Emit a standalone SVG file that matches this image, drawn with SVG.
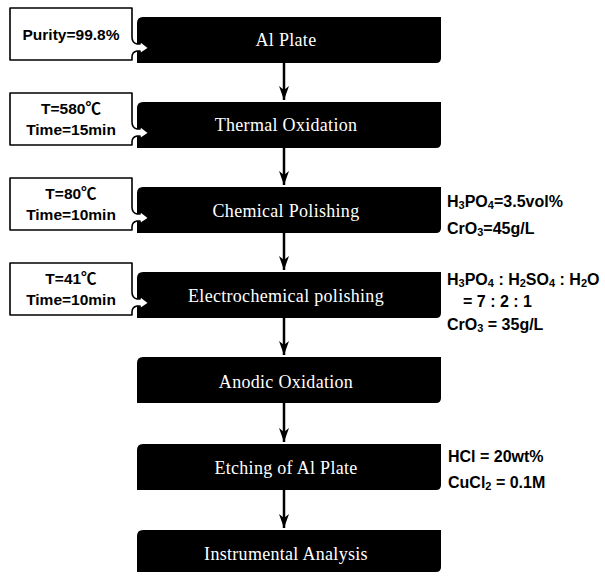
<svg xmlns="http://www.w3.org/2000/svg" width="605" height="577" viewBox="0 0 605 577">
<style>
.box{fill:#000;}
.bt{font-family:"Liberation Serif","Times New Roman",serif;font-size:18px;fill:#fff;text-anchor:middle;letter-spacing:0.3px;}
.co{fill:#fff;stroke:#000;stroke-width:1.6;stroke-linejoin:round;}
.ct{font-family:"Liberation Sans",Arial,"Noto Sans CJK SC",sans-serif;font-size:15.5px;font-weight:bold;fill:#000;text-anchor:middle;}
.nt{font-family:"Liberation Sans",Arial,sans-serif;font-size:16px;font-weight:bold;fill:#000;}
.conn{stroke:#000;stroke-width:2.5;fill:none;}
</style>
<defs>
<marker id="ah" viewBox="0 0 10 14" refX="5" refY="14" markerWidth="10" markerHeight="14" markerUnits="userSpaceOnUse" orient="0">
<path d="M0,0 L5,4 L10,0 L5,14 Z" fill="#000"/>
</marker>
</defs>
<g id="connectors">
<line class="conn" x1="284" y1="63" x2="284" y2="100" marker-end="url(#ah)"/>
<line class="conn" x1="284" y1="148" x2="284" y2="185" marker-end="url(#ah)"/>
<line class="conn" x1="284" y1="233" x2="284" y2="270" marker-end="url(#ah)"/>
<line class="conn" x1="284" y1="318" x2="284" y2="355" marker-end="url(#ah)"/>
<line class="conn" x1="284" y1="403" x2="284" y2="442" marker-end="url(#ah)"/>
<line class="conn" x1="284" y1="490" x2="284" y2="528" marker-end="url(#ah)"/>
</g>
<g id="n1">
<path class="box" d="M143,17 H441 V58 Q441,63 436,63 H137 V23 Q137,17 143,17 Z"/>
<text class="bt" x="286" y="46">Al Plate</text>
</g>
<g id="n2">
<path class="box" d="M143,102 H441 V143 Q441,148 436,148 H137 V108 Q137,102 143,102 Z"/>
<text class="bt" x="286" y="131">Thermal Oxidation</text>
</g>
<g id="n3">
<path class="box" d="M143,187 H441 V228 Q441,233 436,233 H137 V193 Q137,187 143,187 Z"/>
<text class="bt" x="286" y="217">Chemical Polishing</text>
</g>
<g id="n4">
<path class="box" d="M143,272 H441 V313 Q441,318 436,318 H137 V278 Q137,272 143,272 Z"/>
<text class="bt" x="286" y="302">Electrochemical polishing</text>
</g>
<g id="n5">
<path class="box" d="M143,357 H441 V398 Q441,403 436,403 H137 V363 Q137,357 143,357 Z"/>
<text class="bt" x="286" y="388">Anodic Oxidation</text>
</g>
<g id="n6">
<path class="box" d="M143,444 H441 V485 Q441,490 436,490 H137 V450 Q137,444 143,444 Z"/>
<text class="bt" x="286" y="474">Etching of Al Plate</text>
</g>
<g id="n7">
<path class="box" d="M143,530 H441 V567 Q441,572 436,572 H137 V536 Q137,530 143,530 Z"/>
<text class="bt" x="286" y="560">Instrumental Analysis</text>
</g>
<g id="c1">
<path class="co" d="M10,8 H132 V37 Q132,43 137,44 H140 V41 L149,48 L140,54 V51 H137 Q132,52 132,57 V60 H10 Z"/>
<text class="ct" x="71" y="40">Purity=99.8%</text>
</g>
<g id="c2">
<path class="co" d="M10,93 H132 V122 Q132,128 137,129 H140 V126 L149,133 L140,139 V136 H137 Q132,137 132,142 V145 H10 Z"/>
<text class="ct" x="71" y="114">T=580℃</text>
<text class="ct" x="71" y="135">Time=15min</text>
</g>
<g id="c3">
<path class="co" d="M10,178 H132 V207 Q132,213 137,214 H140 V211 L149,218 L140,224 V221 H137 Q132,222 132,227 V230 H10 Z"/>
<text class="ct" x="71" y="199">T=80℃</text>
<text class="ct" x="71" y="220">Time=10min</text>
</g>
<g id="c4">
<path class="co" d="M10,263 H132 V292 Q132,298 137,299 H140 V296 L149,303 L140,309 V306 H137 Q132,307 132,312 V315 H10 Z"/>
<text class="ct" x="71" y="284">T=41℃</text>
<text class="ct" x="71" y="305">Time=10min</text>
</g>
<g id="notes3">
<text class="nt" x="447" y="207">H<tspan font-size="11" dy="2">3</tspan><tspan dy="-2">PO</tspan><tspan font-size="11" dy="2">4</tspan><tspan dy="-2">=3.5vol%</tspan></text>
<text class="nt" x="447" y="234">CrO<tspan font-size="11" dy="2">3</tspan><tspan dy="-2">=45g/L</tspan></text>
</g>
<g id="notes4">
<text class="nt" x="447" y="285">H<tspan font-size="11" dy="2">3</tspan><tspan dy="-2">PO</tspan><tspan font-size="11" dy="2">4</tspan><tspan dy="-2"> : H</tspan><tspan font-size="11" dy="2">2</tspan><tspan dy="-2">SO</tspan><tspan font-size="11" dy="2">4</tspan><tspan dy="-2"> : H</tspan><tspan font-size="11" dy="2">2</tspan><tspan dy="-2">O</tspan></text>
<text class="nt" x="463" y="307">= 7 : 2 : 1</text>
<text class="nt" x="447" y="330">CrO<tspan font-size="11" dy="2">3</tspan><tspan dy="-2"> = 35g/L</tspan></text>
</g>
<g id="notes6">
<text class="nt" x="448" y="462">HCl = 20wt%</text>
<text class="nt" x="448" y="488">CuCl<tspan font-size="11" dy="2">2</tspan><tspan dy="-2"> = 0.1M</tspan></text>
</g>
</svg>
